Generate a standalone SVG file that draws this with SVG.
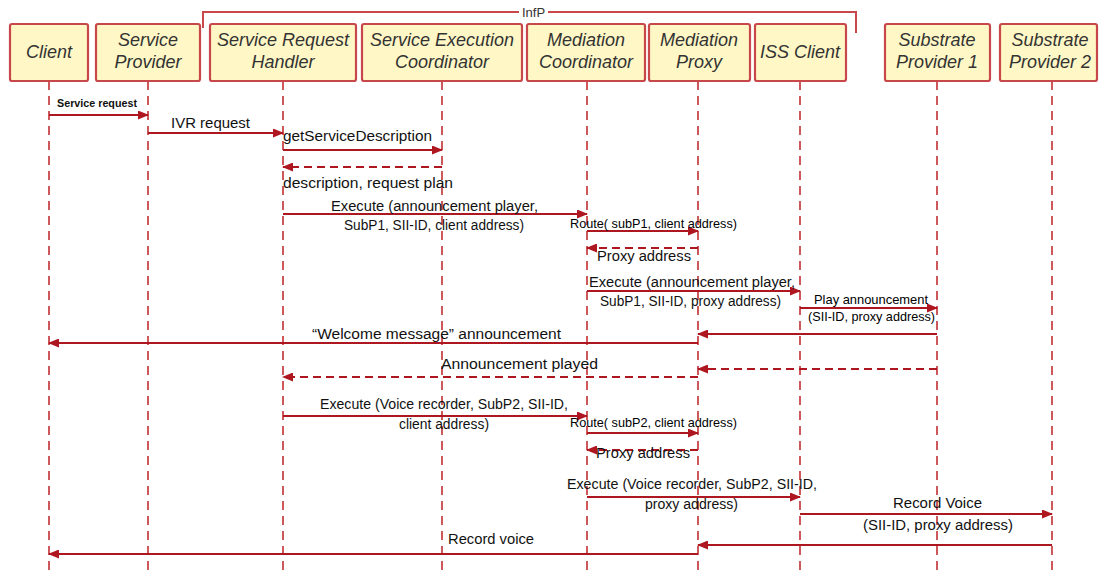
<svg xmlns="http://www.w3.org/2000/svg" width="1099" height="573" viewBox="0 0 1099 573">
  <defs>
    <marker id="head" markerWidth="11" markerHeight="9" refX="10" refY="4.5" orient="auto" markerUnits="userSpaceOnUse">
      <path d="M0,0 L11,4.5 L0,9 Z" fill="#ae1620"/>
    </marker>
  </defs>
  <style>
    .box { fill: #fff8c6; stroke: #c8474b; stroke-width: 2.2; }
    .name { font-family: "Liberation Sans", Arial, sans-serif; font-style: italic; font-size: 18px; fill: #333; text-anchor: middle; }
    .life { stroke: #c8474b; stroke-width: 1.8; stroke-dasharray: 9 6; fill: none; }
    .msg { stroke: #ae1620; stroke-width: 2; fill: none; marker-end: url(#head); }
    .ret { stroke-dasharray: 8 5; }
    .lbl { font-family: "Liberation Sans", Arial, sans-serif; font-size: 14px; fill: #111; }
    .sm { font-size: 13px; fill: #000; }
    .xs { font-size: 10px; font-weight: bold; }
    .brk { stroke: #c8474b; stroke-width: 2; fill: none; }
  </style>
  <rect width="1099" height="573" fill="#ffffff"/>

  <!-- InfP grouping bracket -->
  <g id="infp">
    <path class="brk" d="M203,28 V12 H519 M548,12 H856 V33"/>
    <text x="533.5" y="16.5" font-family="Liberation Sans, Arial, sans-serif" font-size="13" fill="#333" text-anchor="middle">InfP</text>
  </g>

  <!-- lifelines -->
  <g id="lifelines">
    <line class="life" x1="49" y1="81" x2="49" y2="573"/>
    <line class="life" x1="148" y1="81" x2="148" y2="573"/>
    <line class="life" x1="283" y1="81" x2="283" y2="573"/>
    <line class="life" x1="442" y1="81" x2="442" y2="573"/>
    <line class="life" x1="587" y1="81" x2="587" y2="573"/>
    <line class="life" x1="698" y1="81" x2="698" y2="573"/>
    <line class="life" x1="800" y1="81" x2="800" y2="573"/>
    <line class="life" x1="937" y1="81" x2="937" y2="573"/>
    <line class="life" x1="1052" y1="81" x2="1052" y2="573"/>
  </g>

  <!-- participants -->
  <g id="client">
    <rect class="box" x="10" y="24" width="78" height="57" rx="2"/>
    <text class="name" x="49" y="58">Client</text>
  </g>
  <g id="service-provider">
    <rect class="box" x="96" y="24" width="104" height="57" rx="2"/>
    <text class="name" x="148" y="46">Service</text>
    <text class="name" x="148" y="68">Provider</text>
  </g>
  <g id="service-request-handler">
    <rect class="box" x="210" y="24" width="146" height="57" rx="2"/>
    <text class="name" x="283" y="46">Service Request</text>
    <text class="name" x="283" y="68">Handler</text>
  </g>
  <g id="service-execution-coordinator">
    <rect class="box" x="362" y="24" width="160" height="57" rx="2"/>
    <text class="name" x="442" y="46">Service Execution</text>
    <text class="name" x="442" y="68">Coordinator</text>
  </g>
  <g id="mediation-coordinator">
    <rect class="box" x="527" y="24" width="118" height="57" rx="2"/>
    <text class="name" x="586" y="46">Mediation</text>
    <text class="name" x="586" y="68">Coordinator</text>
  </g>
  <g id="mediation-proxy">
    <rect class="box" x="649" y="24" width="101" height="57" rx="2"/>
    <text class="name" x="699" y="46">Mediation</text>
    <text class="name" x="699" y="68">Proxy</text>
  </g>
  <g id="iss-client">
    <rect class="box" x="755" y="24" width="91" height="57" rx="2"/>
    <text class="name" x="800" y="58">ISS Client</text>
  </g>
  <g id="substrate-provider-1">
    <rect class="box" x="885" y="24" width="105" height="57" rx="2"/>
    <text class="name" x="937" y="46">Substrate</text>
    <text class="name" x="937" y="68">Provider 1</text>
  </g>
  <g id="substrate-provider-2">
    <rect class="box" x="1000" y="24" width="97" height="57" rx="2"/>
    <text class="name" x="1050" y="46">Substrate</text>
    <text class="name" x="1050" y="68">Provider 2</text>
  </g>

  <!-- messages -->
  <g id="connectors">
    <line class="msg" x1="49" y1="115" x2="148" y2="115"/>
    <line class="msg" x1="148" y1="133" x2="283" y2="133"/>
    <line class="msg" x1="283" y1="150" x2="442" y2="150"/>
    <line class="msg ret" x1="442" y1="167" x2="283" y2="167"/>
    <line class="msg" x1="283" y1="214" x2="587" y2="214"/>
    <line class="msg" x1="587" y1="231" x2="698" y2="231"/>
    <line class="msg ret" x1="698" y1="248" x2="587" y2="248"/>
    <line class="msg" x1="587" y1="291" x2="800" y2="291"/>
    <line class="msg" x1="800" y1="308" x2="937" y2="308"/>
    <line class="msg" x1="937" y1="334" x2="698" y2="334"/>
    <line class="msg" x1="698" y1="343" x2="49" y2="343"/>
    <line class="msg ret" x1="937" y1="369" x2="698" y2="369"/>
    <line class="msg ret" x1="698" y1="377" x2="283" y2="377"/>
    <line class="msg" x1="283" y1="416" x2="587" y2="416"/>
    <line class="msg" x1="587" y1="433" x2="698" y2="433"/>
    <line class="msg ret" x1="698" y1="450" x2="587" y2="450"/>
    <line class="msg" x1="587" y1="497" x2="800" y2="497"/>
    <line class="msg" x1="800" y1="514" x2="1052" y2="514"/>
    <line class="msg" x1="1052" y1="545" x2="698" y2="545"/>
    <line class="msg" x1="698" y1="554" x2="49" y2="554"/>
  </g>

  <!-- message labels -->
  <g id="labels">
    <text class="lbl xs" x="57" y="107" textLength="80" lengthAdjust="spacingAndGlyphs">Service request</text>
    <text class="lbl" x="171" y="128" textLength="79" lengthAdjust="spacingAndGlyphs">IVR request</text>
    <text class="lbl" x="283" y="141" textLength="149" lengthAdjust="spacingAndGlyphs">getServiceDescription</text>
    <text class="lbl" x="283" y="188" textLength="170" lengthAdjust="spacingAndGlyphs">description, request plan</text>
    <text class="lbl" x="331" y="211" textLength="207" lengthAdjust="spacingAndGlyphs">Execute (announcement player,</text>
    <text class="lbl" x="344" y="230" textLength="180" lengthAdjust="spacingAndGlyphs">SubP1, SII-ID, client address)</text>
    <text class="lbl sm" x="570" y="228" textLength="167" lengthAdjust="spacingAndGlyphs">Route( subP1, client address)</text>
    <text class="lbl" x="597" y="261" textLength="94" lengthAdjust="spacingAndGlyphs">Proxy address</text>
    <text class="lbl" x="589" y="287" textLength="206" lengthAdjust="spacingAndGlyphs">Execute (announcement player,</text>
    <text class="lbl" x="600" y="306" textLength="181" lengthAdjust="spacingAndGlyphs">SubP1, SII-ID, proxy address)</text>
    <text class="lbl sm" x="814" y="304" textLength="114" lengthAdjust="spacingAndGlyphs">Play announcement</text>
    <text class="lbl sm" x="808" y="321" textLength="127" lengthAdjust="spacingAndGlyphs">(SII-ID, proxy address)</text>
    <text class="lbl" x="312" y="339" textLength="249" lengthAdjust="spacingAndGlyphs">“Welcome message” announcement</text>
    <text class="lbl" x="441" y="369" textLength="157" lengthAdjust="spacingAndGlyphs">Announcement played</text>
    <text class="lbl" x="320" y="409" textLength="248" lengthAdjust="spacingAndGlyphs">Execute (Voice recorder, SubP2, SII-ID,</text>
    <text class="lbl" x="399" y="429" textLength="90" lengthAdjust="spacingAndGlyphs">client address)</text>
    <text class="lbl sm" x="570" y="427" textLength="167" lengthAdjust="spacingAndGlyphs">Route( subP2, client address)</text>
    <text class="lbl" x="596" y="458" textLength="94" lengthAdjust="spacingAndGlyphs">Proxy address</text>
    <text class="lbl" x="567" y="489" textLength="250" lengthAdjust="spacingAndGlyphs">Execute (Voice recorder, SubP2, SII-ID,</text>
    <text class="lbl" x="645" y="509" textLength="93" lengthAdjust="spacingAndGlyphs">proxy address)</text>
    <text class="lbl" x="893" y="508" textLength="89" lengthAdjust="spacingAndGlyphs">Record Voice</text>
    <text class="lbl" x="863" y="530" textLength="150" lengthAdjust="spacingAndGlyphs">(SII-ID, proxy address)</text>
    <text class="lbl" x="448" y="544" textLength="86" lengthAdjust="spacingAndGlyphs">Record voice</text>
  </g>
</svg>
